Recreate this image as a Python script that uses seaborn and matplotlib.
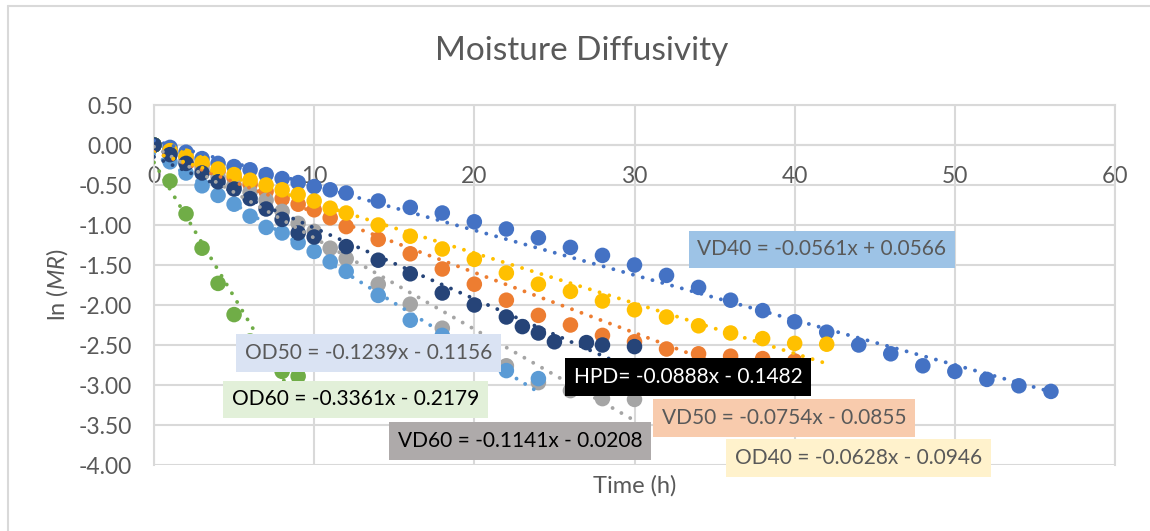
import numpy as np
import pandas as pd
import matplotlib
matplotlib.use("Agg")
import matplotlib.pyplot as plt
from matplotlib.lines import Line2D
from matplotlib import font_manager
import seaborn as sns

# ---------------- data ----------------
series_names = ["VD40", "VD50", "VD60", "OD40", "OD50", "OD60", "HPD"]
series_colors = ["#4472C4", "#ED7D31", "#A5A5A5", "#FFC000", "#5B9BD5", "#70AD47", "#264478"]

early_t = list(range(0, 13))

vd40_t = early_t + list(range(14, 57, 2))
vd40_y = [0, -0.03, -0.09, -0.17, -0.23, -0.27, -0.31, -0.37, -0.42, -0.47, -0.52, -0.56, -0.60,
          -0.70, -0.78, -0.85, -0.96, -1.05, -1.16, -1.28, -1.38, -1.50, -1.63, -1.78, -1.94,
          -2.07, -2.21, -2.34, -2.50, -2.61, -2.76, -2.83, -2.93, -3.01, -3.08]

vd50_t = early_t + list(range(14, 41, 2))
vd50_y = [0, -0.08, -0.16, -0.25, -0.33, -0.41, -0.49, -0.58, -0.67, -0.74, -0.81, -0.91, -1.02,
          -1.18, -1.36, -1.55, -1.74, -1.94, -2.13, -2.25, -2.38, -2.46, -2.55, -2.61, -2.64,
          -2.67, -2.70]

vd60_t = early_t + list(range(14, 31, 2))
vd60_y = [0, -0.10, -0.20, -0.30, -0.40, -0.50, -0.59, -0.69, -0.83, -0.98, -1.08, -1.29, -1.42,
          -1.74, -1.99, -2.29, -2.55, -2.76, -2.97, -3.07, -3.17, -3.18]

od40_t = early_t + list(range(14, 43, 2))
od40_y = [0, -0.07, -0.14, -0.22, -0.30, -0.37, -0.44, -0.50, -0.56, -0.62, -0.70, -0.79, -0.85,
          -1.00, -1.14, -1.30, -1.43, -1.60, -1.74, -1.83, -1.95, -2.06, -2.15, -2.26, -2.35,
          -2.42, -2.48, -2.49]

od50_t = early_t + list(range(14, 25, 2))
od50_y = [0, -0.21, -0.35, -0.51, -0.63, -0.74, -0.89, -1.03, -1.10, -1.22, -1.33, -1.46, -1.58,
          -1.88, -2.19, -2.38, -2.62, -2.82, -2.92]

od60_t = list(range(0, 10))
od60_y = [0, -0.45, -0.86, -1.29, -1.73, -2.12, -2.45, -2.70, -2.83, -2.89]

hpd_t = list(range(0, 11)) + [12, 14, 16, 18, 20, 22, 23, 24, 25, 27, 28, 30]
hpd_y = [0, -0.12, -0.23, -0.35, -0.46, -0.55, -0.67, -0.80, -0.93, -1.10, -1.15, -1.27,
         -1.44, -1.61, -1.85, -2.00, -2.15, -2.27, -2.35, -2.46, -2.47, -2.50, -2.52]

# linear trendline coefficients (as printed on the chart)
trend_slopes = [-0.0561, -0.0754, -0.1141, -0.0628, -0.1239, -0.3361, -0.0888]
trend_intercepts = [0.0566, -0.0855, -0.0208, -0.0946, -0.1156, -0.2179, -0.1482]

label_texts = ["VD40 = -0.0561x + 0.0566", "VD50 = -0.0754x - 0.0855",
               "VD60 = -0.1141x - 0.0208", "OD40 = -0.0628x - 0.0946",
               "OD50 = -0.1239x - 0.1156", "OD60 = -0.3361x - 0.2179",
               "HPD= -0.0888x - 0.1482"]
label_fill = ["#9DC3E6", "#F8CBAD", "#AEAAAA", "#FFF2CC", "#DAE3F3", "#E2F0D9", "#000000"]
label_textcolor = ["#595959", "#595959", "#000000", "#595959", "#595959", "#000000", "#FFFFFF"]
label_pos = [(0.695, 0.599), (0.656, 0.130), (0.381, 0.066), (0.733, 0.020),
             (0.223, 0.311), (0.210, 0.182), (0.556, 0.244)]

x_ticks = [0, 10, 20, 30, 40, 50, 60]
y_ticks = [0.5, 0.0, -0.5, -1.0, -1.5, -2.0, -2.5, -3.0, -3.5, -4.0]

all_t = [vd40_t, vd50_t, vd60_t, od40_t, od50_t, od60_t, hpd_t]
all_y = [vd40_y, vd50_y, vd60_y, od40_y, od50_y, od60_y, hpd_y]

frames = []
for name, t, y in zip(series_names, all_t, all_y):
    frames.append(pd.DataFrame({"Time": t, "lnMR": y, "Series": name}))
df = pd.concat(frames, ignore_index=True)

# ---------------- style ----------------
sns.set_style("white")
FONT = "Lato"
plt.rcParams["font.family"] = [FONT, "DejaVu Sans"]

# find an italic face for the italic "MR"
italic_family = None
for fam in ["Lato", "Open Sans", "Noto Sans", "Roboto", "Liberation Sans", "DejaVu Sans"]:
    if any(f.name == fam and f.style in ("italic", "oblique") for f in font_manager.fontManager.ttflist):
        italic_family = fam
        break
plt.rcParams["mathtext.fontset"] = "custom"
plt.rcParams["mathtext.rm"] = FONT
plt.rcParams["mathtext.it"] = (italic_family or FONT) + ":italic"

TXT = "#595959"
GRID = "#D9D9D9"

fig = plt.figure(figsize=(11.5, 5.31), dpi=100)
ax = fig.add_axes([154 / 1150, 1 - 465 / 531, (1115 - 154) / 1150, 360 / 531])

sns.scatterplot(data=df, x="Time", y="lnMR", hue="Series", hue_order=series_names,
                palette=series_colors, s=125, edgecolor="none", linewidth=0,
                legend=False, ax=ax, zorder=3)

# trendlines (dotted) on top of markers
for i, (t, c) in enumerate(zip(all_t, series_colors)):
    xs = np.array([min(t), max(t)], dtype=float)
    ys = trend_slopes[i] * xs + trend_intercepts[i]
    ax.plot(xs, ys, color=c, lw=2.8, linestyle=(0, (0.01, 2.6)),
            dash_capstyle="round", zorder=4)

ax.set_xlim(0, 60)
ax.set_ylim(-4.0, 0.5)
ax.set_xticks(x_ticks)
ax.set_yticks(y_ticks)
ax.set_xticklabels([str(v) for v in x_ticks])
ax.set_yticklabels([f"{v:.2f}" for v in y_ticks])
ax.grid(True, color=GRID, lw=1.5, zorder=0)
ax.set_axisbelow(True)
for s in ax.spines.values():
    s.set_color(GRID)
    s.set_linewidth(1.5)
ax.spines["bottom"].set_position(("data", 0))
ax.tick_params(axis="both", length=0, colors=TXT, labelsize=16.5)
ax.tick_params(axis="x", pad=15)
ax.tick_params(axis="y", pad=16)

ax.set_xlabel("Time (h)", fontsize=17, color=TXT)
ax.xaxis.set_label_coords(0.5, -0.028)
ax.set_ylabel(r"ln ($\mathit{MR}$)", fontsize=17, color=TXT)
ax.yaxis.set_label_coords(-0.087, 0.5)

fig.text(582 / 1150, 1 - 51 / 531, "Moisture Diffusivity", fontsize=24, color=TXT,
         ha="center", va="center")

for txt, (fx, fy), fc, tc in zip(label_texts, label_pos, label_fill, label_textcolor):
    ax.text(fx, fy, txt, transform=ax.transAxes, ha="center", va="center",
            fontsize=15, color=tc, zorder=6,
            bbox=dict(boxstyle="square,pad=0.42", facecolor=fc, edgecolor="none"))

# chart-area border (left and top visible)
fig.add_artist(Line2D([8 / 1150, 8 / 1150], [0, 1 - 6 / 531], transform=fig.transFigure,
                      color=GRID, lw=1.5))
fig.add_artist(Line2D([8 / 1150, 1], [1 - 6 / 531, 1 - 6 / 531], transform=fig.transFigure,
                      color=GRID, lw=1.5))

fig.savefig("out.png", dpi=100, facecolor="white")
